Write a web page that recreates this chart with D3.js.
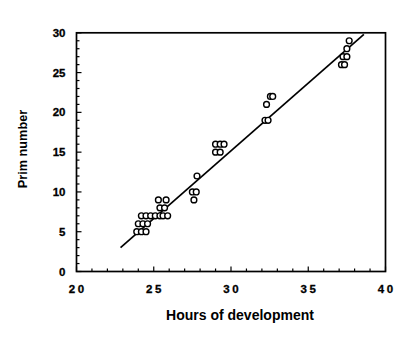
<!DOCTYPE html>
<html>
<head>
<meta charset="utf-8">
<script src="https://cdn.jsdelivr.net/npm/d3@7"></script>
<style>
  html, body { margin: 0; padding: 0; background: #fff; }
  svg { display: block; }
  text { font-family: "Liberation Sans", Arial, Helvetica, sans-serif; font-weight: bold; fill: #000; }
</style>
</head>
<body>
<script>
// Observations: hours of development and primordium count
const hours = [
  23.9, 24.2, 24.5,
  24.0, 24.3, 24.6,
  24.2, 24.5, 24.8, 25.1, 25.4, 25.6, 25.9,
  25.4, 25.7,
  25.3, 25.8,
  27.6,
  27.5, 27.75,
  27.8,
  29.0, 29.3,
  29.0, 29.3, 29.55,
  32.2, 32.4,
  32.3,
  32.55, 32.7,
  37.15, 37.35,
  37.25, 37.5,
  37.5,
  37.65
];
const prims = [
  5, 5, 5,
  6, 6, 6,
  7, 7, 7, 7, 7, 7, 7,
  8, 8,
  9, 9,
  9,
  10, 10,
  12,
  15, 15,
  16, 16, 16,
  19, 19,
  21,
  22, 22,
  26, 26,
  27, 27,
  28,
  29
];

// Fitted regression line end points
const fitHours = [22.85, 38.6];
const fitPrims = [3.0, 29.8];

const xTicks = [20, 25, 30, 35, 40];
const yTicks = [0, 5, 10, 15, 20, 25, 30];
const xMinor = d3.range(20, 41, 1);
const yMinor = d3.range(0, 31, 1);

const W = 416, H = 342;
const svg = d3.select("body").append("svg").attr("width", W).attr("height", H);
svg.append("rect").attr("width", W).attr("height", H).attr("fill", "#fff");

const x = d3.scaleLinear().domain([20, 40]).range([76.5, 385.5]);
const y = d3.scaleLinear().domain([0, 30]).range([271.5, 32.8]);

// Frame around plot area
svg.append("rect")
  .attr("x", x(20)).attr("y", y(30))
  .attr("width", x(40) - x(20)).attr("height", y(0) - y(30))
  .attr("fill", "none").attr("stroke", "#000").attr("stroke-width", 1.7);

// Inward ticks on left and bottom axes
const tickG = svg.append("g").attr("stroke", "#000").attr("stroke-width", 1.2);
tickG.selectAll(".xt").data(xMinor).join("line")
  .attr("x1", d => x(d)).attr("x2", d => x(d))
  .attr("y1", y(0)).attr("y2", d => y(0) - (d % 5 === 0 ? 5 : 3));
tickG.selectAll(".yt").data(yMinor).join("line")
  .attr("y1", d => y(d)).attr("y2", d => y(d))
  .attr("x1", x(20)).attr("x2", d => x(20) + (d % 5 === 0 ? 5 : 3));

// Tick labels
svg.selectAll(".xl").data(xTicks).join("text")
  .attr("x", d => x(d) + 1.2).attr("y", 293)
  .attr("text-anchor", "middle")
  .style("font-size", "11.5px").style("letter-spacing", "2.5px")
  .style("stroke", "#000").style("stroke-width", 0.3)
  .text(d => d);
svg.selectAll(".yl").data(yTicks).join("text")
  .attr("x", 65.5).attr("y", d => y(d) + 4)
  .attr("text-anchor", "end")
  .style("font-size", "11.5px")
  .style("stroke", "#000").style("stroke-width", 0.3)
  .text(d => d);

// Axis titles
svg.append("text")
  .attr("x", 240).attr("y", 320)
  .attr("text-anchor", "middle")
  .style("font-size", "14px")
  .text("Hours of development");
svg.append("text")
  .attr("transform", "translate(27,149) rotate(-90)")
  .attr("text-anchor", "middle")
  .style("font-size", "12.7px")
  .text("Prim number");

// Regression line
const line = d3.line().x(d => x(d[0])).y(d => y(d[1]));
svg.append("path")
  .datum(d3.zip(fitHours, fitPrims))
  .attr("d", line)
  .attr("fill", "none").attr("stroke", "#000").attr("stroke-width", 1.7);

// Open circle markers
svg.append("g").selectAll("circle").data(d3.zip(hours, prims)).join("circle")
  .attr("cx", d => x(d[0])).attr("cy", d => y(d[1]))
  .attr("r", 2.9)
  .attr("fill", "#fff").attr("stroke", "#000").attr("stroke-width", 1.4);
</script>
</body>
</html>
